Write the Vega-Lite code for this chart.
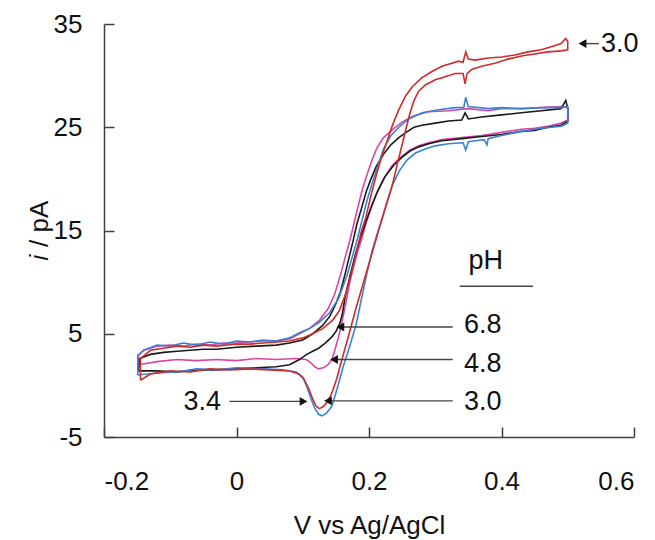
{
  "$schema": "https://vega.github.io/schema/vega-lite/v6.json",
  "width": 530,
  "height": 413,
  "autosize": "none",
  "padding": {"left": 104, "top": 24, "right": 21, "bottom": 103},
  "background": "white",
  "config": {
    "view": {"stroke": null},
    "axis": {
      "grid": false,
      "domainColor": "#404040",
      "tickColor": "#404040",
      "domainWidth": 1.5,
      "tickWidth": 1.5,
      "tickSize": -10,
      "labelFont": "Liberation Sans",
      "labelFontSize": 26,
      "labelColor": "#111111",
      "titleFont": "Liberation Sans",
      "titleFontSize": 26,
      "titleFontWeight": "normal",
      "titleColor": "#111111"
    }
  },
  "datasets": {
    "curves": [
      {"s":"m","v":-0.148,"c":2.0},{"s":"m","v":-0.148,"c":2.9},{"s":"m","v":-0.14,"c":3.4},{"s":"m","v":-0.12,"c":3.8},{"s":"m","v":-0.10,"c":3.9},{"s":"m","v":-0.08,"c":3.8},{"s":"m","v":-0.06,"c":4.0},{"s":"m","v":-0.04,"c":3.9},{"s":"m","v":-0.02,"c":4.1},{"s":"m","v":0.0,"c":4.1},{"s":"m","v":0.02,"c":4.2},{"s":"m","v":0.04,"c":4.3},{"s":"m","v":0.06,"c":4.3},{"s":"m","v":0.08,"c":4.5},{"s":"m","v":0.095,"c":5.0},{"s":"m","v":0.11,"c":5.5},{"s":"m","v":0.125,"c":6.3},{"s":"m","v":0.138,"c":7.4},{"s":"m","v":0.148,"c":8.8},{"s":"m","v":0.157,"c":10.7},{"s":"m","v":0.164,"c":12.4},{"s":"m","v":0.171,"c":14.0},{"s":"m","v":0.177,"c":15.6},{"s":"m","v":0.183,"c":17.2},{"s":"m","v":0.19,"c":19.0},{"s":"m","v":0.198,"c":20.6},{"s":"m","v":0.205,"c":21.9},{"s":"m","v":0.212,"c":23.0},{"s":"m","v":0.222,"c":24.0},{"s":"m","v":0.236,"c":24.8},{"s":"m","v":0.25,"c":25.5},{"s":"m","v":0.267,"c":26.1},{"s":"m","v":0.29,"c":26.5},{"s":"m","v":0.32,"c":26.6},{"s":"m","v":0.35,"c":26.8},{"s":"m","v":0.38,"c":26.6},{"s":"m","v":0.40,"c":26.8},{"s":"m","v":0.43,"c":26.8},{"s":"m","v":0.46,"c":26.9},{"s":"m","v":0.49,"c":27.0},{"s":"m","v":0.5,"c":26.9},{"s":"m","v":0.5,"c":25.7},
      {"s":"m","v":0.49,"c":25.4},{"s":"m","v":0.47,"c":25.1},{"s":"m","v":0.45,"c":24.9},{"s":"m","v":0.43,"c":24.8},{"s":"m","v":0.40,"c":24.5},{"s":"m","v":0.37,"c":24.2},{"s":"m","v":0.34,"c":24.0},{"s":"m","v":0.31,"c":23.8},{"s":"m","v":0.29,"c":23.5},{"s":"m","v":0.275,"c":23.2},{"s":"m","v":0.262,"c":22.8},{"s":"m","v":0.248,"c":22.1},{"s":"m","v":0.235,"c":21.3},{"s":"m","v":0.222,"c":20.0},{"s":"m","v":0.212,"c":18.7},{"s":"m","v":0.204,"c":17.3},{"s":"m","v":0.196,"c":15.8},{"s":"m","v":0.189,"c":14.2},{"s":"m","v":0.182,"c":12.8},{"s":"m","v":0.176,"c":11.3},{"s":"m","v":0.171,"c":10.0},{"s":"m","v":0.164,"c":7.6},{"s":"m","v":0.158,"c":5.8},{"s":"m","v":0.154,"c":4.7},{"s":"m","v":0.148,"c":3.3},{"s":"m","v":0.144,"c":2.5},{"s":"m","v":0.138,"c":2.0},{"s":"m","v":0.131,"c":1.7},{"s":"m","v":0.124,"c":1.6},{"s":"m","v":0.118,"c":1.8},{"s":"m","v":0.112,"c":2.2},{"s":"m","v":0.105,"c":2.5},{"s":"m","v":0.09,"c":2.6},{"s":"m","v":0.06,"c":2.5},{"s":"m","v":0.03,"c":2.6},{"s":"m","v":0.0,"c":2.4},{"s":"m","v":-0.03,"c":2.5},{"s":"m","v":-0.06,"c":2.4},{"s":"m","v":-0.09,"c":2.5},{"s":"m","v":-0.12,"c":2.3},{"s":"m","v":-0.148,"c":2.0},

      {"s":"k","v":-0.148,"c":1.4},{"s":"k","v":-0.146,"c":2.6},{"s":"k","v":-0.13,"c":3.0},{"s":"k","v":-0.11,"c":3.2},{"s":"k","v":-0.09,"c":3.3},{"s":"k","v":-0.07,"c":3.4},{"s":"k","v":-0.05,"c":3.5},{"s":"k","v":-0.03,"c":3.5},{"s":"k","v":0.0,"c":3.7},{"s":"k","v":0.03,"c":3.8},{"s":"k","v":0.06,"c":3.9},{"s":"k","v":0.08,"c":4.1},{"s":"k","v":0.1,"c":4.4},{"s":"k","v":0.115,"c":5.0},{"s":"k","v":0.13,"c":5.8},{"s":"k","v":0.141,"c":6.7},{"s":"k","v":0.15,"c":7.9},{"s":"k","v":0.157,"c":9.1},{"s":"k","v":0.164,"c":10.8},{"s":"k","v":0.17,"c":12.4},{"s":"k","v":0.176,"c":14.0},{"s":"k","v":0.182,"c":15.7},{"s":"k","v":0.189,"c":17.2},{"s":"k","v":0.196,"c":18.8},{"s":"k","v":0.203,"c":20.0},{"s":"k","v":0.211,"c":21.2},{"s":"k","v":0.222,"c":22.4},{"s":"k","v":0.233,"c":23.3},{"s":"k","v":0.245,"c":24.0},{"s":"k","v":0.256,"c":24.5},{"s":"k","v":0.268,"c":25.0},{"s":"k","v":0.28,"c":25.2},{"s":"k","v":0.3,"c":25.4},{"s":"k","v":0.32,"c":25.6},{"s":"k","v":0.34,"c":25.7},{"s":"k","v":0.345,"c":26.4},{"s":"k","v":0.35,"c":25.8},{"s":"k","v":0.37,"c":26.0},{"s":"k","v":0.4,"c":26.2},{"s":"k","v":0.43,"c":26.4},{"s":"k","v":0.46,"c":26.6},{"s":"k","v":0.49,"c":26.8},{"s":"k","v":0.497,"c":27.6},{"s":"k","v":0.5,"c":26.8},{"s":"k","v":0.5,"c":25.6},
      {"s":"k","v":0.49,"c":25.2},{"s":"k","v":0.47,"c":25.0},{"s":"k","v":0.45,"c":24.7},{"s":"k","v":0.43,"c":24.6},{"s":"k","v":0.40,"c":24.3},{"s":"k","v":0.37,"c":24.1},{"s":"k","v":0.34,"c":23.9},{"s":"k","v":0.31,"c":23.7},{"s":"k","v":0.29,"c":23.4},{"s":"k","v":0.275,"c":23.1},{"s":"k","v":0.262,"c":22.7},{"s":"k","v":0.25,"c":22.1},{"s":"k","v":0.237,"c":21.3},{"s":"k","v":0.224,"c":20.2},{"s":"k","v":0.213,"c":18.8},{"s":"k","v":0.204,"c":17.4},{"s":"k","v":0.196,"c":16.0},{"s":"k","v":0.188,"c":14.5},{"s":"k","v":0.18,"c":12.8},{"s":"k","v":0.172,"c":10.8},{"s":"k","v":0.164,"c":8.6},{"s":"k","v":0.16,"c":7.0},{"s":"k","v":0.156,"c":6.0},{"s":"k","v":0.15,"c":5.2},{"s":"k","v":0.144,"c":4.7},{"s":"k","v":0.134,"c":4.1},{"s":"k","v":0.124,"c":3.6},{"s":"k","v":0.115,"c":3.3},{"s":"k","v":0.106,"c":3.0},{"s":"k","v":0.095,"c":2.5},{"s":"k","v":0.08,"c":2.0},{"s":"k","v":0.06,"c":1.8},{"s":"k","v":0.03,"c":1.7},{"s":"k","v":0.0,"c":1.6},{"s":"k","v":-0.03,"c":1.5},{"s":"k","v":-0.06,"c":1.5},{"s":"k","v":-0.09,"c":1.3},{"s":"k","v":-0.12,"c":1.4},{"s":"k","v":-0.148,"c":1.4},

      {"s":"b","v":-0.149,"c":1.0},{"s":"b","v":-0.149,"c":2.9},{"s":"b","v":-0.14,"c":3.4},{"s":"b","v":-0.12,"c":3.9},{"s":"b","v":-0.10,"c":3.8},{"s":"b","v":-0.08,"c":4.1},{"s":"b","v":-0.06,"c":3.9},{"s":"b","v":-0.04,"c":4.2},{"s":"b","v":-0.02,"c":4.0},{"s":"b","v":0.0,"c":4.3},{"s":"b","v":0.02,"c":4.2},{"s":"b","v":0.04,"c":4.4},{"s":"b","v":0.06,"c":4.3},{"s":"b","v":0.08,"c":4.6},{"s":"b","v":0.095,"c":5.1},{"s":"b","v":0.11,"c":5.5},{"s":"b","v":0.125,"c":6.1},{"s":"b","v":0.14,"c":7.0},{"s":"b","v":0.154,"c":8.4},{"s":"b","v":0.167,"c":10.7},{"s":"b","v":0.175,"c":12.5},{"s":"b","v":0.182,"c":14.1},{"s":"b","v":0.19,"c":16.1},{"s":"b","v":0.197,"c":17.9},{"s":"b","v":0.205,"c":19.6},{"s":"b","v":0.212,"c":21.0},{"s":"b","v":0.222,"c":22.9},{"s":"b","v":0.232,"c":24.1},{"s":"b","v":0.245,"c":25.0},{"s":"b","v":0.26,"c":25.8},{"s":"b","v":0.28,"c":26.4},{"s":"b","v":0.305,"c":26.7},{"s":"b","v":0.33,"c":26.9},{"s":"b","v":0.343,"c":26.9},{"s":"b","v":0.346,"c":27.9},{"s":"b","v":0.35,"c":27.0},{"s":"b","v":0.38,"c":26.8},{"s":"b","v":0.40,"c":26.9},{"s":"b","v":0.43,"c":26.8},{"s":"b","v":0.46,"c":26.9},{"s":"b","v":0.49,"c":26.9},{"s":"b","v":0.5,"c":27.0},{"s":"b","v":0.5,"c":25.4},
      {"s":"b","v":0.49,"c":25.1},{"s":"b","v":0.46,"c":24.9},{"s":"b","v":0.43,"c":24.6},{"s":"b","v":0.40,"c":24.2},{"s":"b","v":0.38,"c":23.9},{"s":"b","v":0.378,"c":23.3},{"s":"b","v":0.374,"c":23.8},{"s":"b","v":0.36,"c":23.7},{"s":"b","v":0.35,"c":23.6},{"s":"b","v":0.346,"c":22.8},{"s":"b","v":0.342,"c":23.5},{"s":"b","v":0.32,"c":23.4},{"s":"b","v":0.30,"c":23.2},{"s":"b","v":0.285,"c":22.9},{"s":"b","v":0.27,"c":22.5},{"s":"b","v":0.257,"c":21.8},{"s":"b","v":0.246,"c":20.8},{"s":"b","v":0.236,"c":19.5},{"s":"b","v":0.228,"c":17.9},{"s":"b","v":0.219,"c":16.0},{"s":"b","v":0.212,"c":14.6},{"s":"b","v":0.205,"c":13.1},{"s":"b","v":0.196,"c":10.6},{"s":"b","v":0.188,"c":8.2},{"s":"b","v":0.181,"c":6.0},{"s":"b","v":0.172,"c":4.0},{"s":"b","v":0.161,"c":1.8},{"s":"b","v":0.152,"c":-0.3},{"s":"b","v":0.144,"c":-2.0},{"s":"b","v":0.136,"c":-2.7},{"s":"b","v":0.129,"c":-2.95},{"s":"b","v":0.124,"c":-2.8},{"s":"b","v":0.118,"c":-2.2},{"s":"b","v":0.112,"c":-1.2},{"s":"b","v":0.106,"c":-0.1},{"s":"b","v":0.1,"c":0.8},{"s":"b","v":0.09,"c":1.3},{"s":"b","v":0.07,"c":1.5},{"s":"b","v":0.04,"c":1.6},{"s":"b","v":0.0,"c":1.7},{"s":"b","v":-0.03,"c":1.5},{"s":"b","v":-0.06,"c":1.6},{"s":"b","v":-0.09,"c":1.3},{"s":"b","v":-0.12,"c":1.2},{"s":"b","v":-0.149,"c":1.0},

      {"s":"r","v":-0.145,"c":0.5},{"s":"r","v":-0.145,"c":2.6},{"s":"r","v":-0.13,"c":3.4},{"s":"r","v":-0.11,"c":3.6},{"s":"r","v":-0.09,"c":3.8},{"s":"r","v":-0.07,"c":3.7},{"s":"r","v":-0.05,"c":3.9},{"s":"r","v":-0.03,"c":3.8},{"s":"r","v":0.0,"c":4.0},{"s":"r","v":0.02,"c":4.0},{"s":"r","v":0.04,"c":4.1},{"s":"r","v":0.06,"c":4.2},{"s":"r","v":0.08,"c":4.3},{"s":"r","v":0.1,"c":4.6},{"s":"r","v":0.115,"c":5.0},{"s":"r","v":0.13,"c":5.5},{"s":"r","v":0.145,"c":6.3},{"s":"r","v":0.155,"c":7.2},{"s":"r","v":0.165,"c":8.9},{"s":"r","v":0.172,"c":10.5},{"s":"r","v":0.18,"c":12.6},{"s":"r","v":0.188,"c":14.8},{"s":"r","v":0.195,"c":16.2},{"s":"r","v":0.203,"c":18.4},{"s":"r","v":0.212,"c":20.6},{"s":"r","v":0.22,"c":22.3},{"s":"r","v":0.228,"c":23.8},{"s":"r","v":0.236,"c":25.3},{"s":"r","v":0.245,"c":26.7},{"s":"r","v":0.255,"c":28.0},{"s":"r","v":0.265,"c":28.9},{"s":"r","v":0.28,"c":29.8},{"s":"r","v":0.295,"c":30.4},{"s":"r","v":0.31,"c":30.9},{"s":"r","v":0.325,"c":31.2},{"s":"r","v":0.335,"c":31.4},{"s":"r","v":0.342,"c":31.3},{"s":"r","v":0.346,"c":32.3},{"s":"r","v":0.35,"c":31.6},{"s":"r","v":0.36,"c":31.5},{"s":"r","v":0.38,"c":31.7},{"s":"r","v":0.40,"c":31.8},{"s":"r","v":0.42,"c":32.0},{"s":"r","v":0.44,"c":32.3},{"s":"r","v":0.46,"c":32.5},{"s":"r","v":0.48,"c":32.9},{"s":"r","v":0.49,"c":33.1},{"s":"r","v":0.497,"c":33.6},{"s":"r","v":0.5,"c":33.3},{"s":"r","v":0.5,"c":32.5},
      {"s":"r","v":0.49,"c":32.4},{"s":"r","v":0.47,"c":32.3},{"s":"r","v":0.45,"c":32.1},{"s":"r","v":0.43,"c":31.9},{"s":"r","v":0.41,"c":31.6},{"s":"r","v":0.39,"c":31.2},{"s":"r","v":0.37,"c":30.9},{"s":"r","v":0.355,"c":30.6},{"s":"r","v":0.348,"c":30.2},{"s":"r","v":0.345,"c":29.2},{"s":"r","v":0.342,"c":30.2},{"s":"r","v":0.33,"c":30.2},{"s":"r","v":0.315,"c":29.9},{"s":"r","v":0.30,"c":29.6},{"s":"r","v":0.285,"c":29.1},{"s":"r","v":0.275,"c":28.5},{"s":"r","v":0.268,"c":27.6},{"s":"r","v":0.262,"c":26.4},{"s":"r","v":0.256,"c":24.9},{"s":"r","v":0.25,"c":23.3},{"s":"r","v":0.243,"c":21.5},{"s":"r","v":0.236,"c":19.6},{"s":"r","v":0.228,"c":17.9},{"s":"r","v":0.219,"c":16.0},{"s":"r","v":0.21,"c":14.0},{"s":"r","v":0.2,"c":11.8},{"s":"r","v":0.19,"c":9.6},{"s":"r","v":0.18,"c":7.4},{"s":"r","v":0.17,"c":5.0},{"s":"r","v":0.16,"c":2.7},{"s":"r","v":0.151,"c":0.6},{"s":"r","v":0.143,"c":-0.9},{"s":"r","v":0.136,"c":-1.7},{"s":"r","v":0.13,"c":-2.1},{"s":"r","v":0.125,"c":-2.25},{"s":"r","v":0.12,"c":-2.0},{"s":"r","v":0.115,"c":-1.3},{"s":"r","v":0.109,"c":-0.3},{"s":"r","v":0.102,"c":0.6},{"s":"r","v":0.094,"c":1.1},{"s":"r","v":0.08,"c":1.4},{"s":"r","v":0.05,"c":1.5},{"s":"r","v":0.02,"c":1.6},{"s":"r","v":-0.01,"c":1.5},{"s":"r","v":-0.04,"c":1.6},{"s":"r","v":-0.07,"c":1.3},{"s":"r","v":-0.1,"c":1.4},{"s":"r","v":-0.13,"c":1.1},{"s":"r","v":-0.145,"c":0.5}
    ],
    "arrows": [
      {"x": 0.3264, "x2": 0.1568, "y": 5.66},
      {"x": 0.3264, "x2": 0.1473, "y": 2.5},
      {"x": 0.3264, "x2": 0.138, "y": -1.5},
      {"x": -0.0106, "x2": 0.1012, "y": -1.55},
      {"x": 0.547, "x2": 0.5223, "y": 33.1},
      {"x": 0.337, "x2": 0.4476, "y": 9.6}
    ],
    "headsL": [
      {"x": 0.1568, "y": 5.66},
      {"x": 0.1473, "y": 2.5},
      {"x": 0.138, "y": -1.5},
      {"x": 0.5223, "y": 33.1}
    ],
    "headsR": [
      {"x": 0.1012, "y": -1.55}
    ],
    "labels": [
      {"x": 0.3434, "y": 5.85, "t": "6.8"},
      {"x": 0.3434, "y": 2.1, "t": "4.8"},
      {"x": 0.3434, "y": -1.57, "t": "3.0"},
      {"x": -0.0799, "y": -1.57, "t": "3.4"},
      {"x": 0.35, "y": 12.0, "t": "pH"},
      {"x": 0.5502, "y": 33.07, "t": "3.0"}
    ]
  },
  "layer": [
    {
      "data": {"name": "curves"},
      "mark": {"type": "line", "strokeWidth": 1.6, "clip": false},
      "encoding": {
        "x": {"field": "v", "type": "quantitative",
          "scale": {"domain": [-0.2, 0.6], "nice": false, "zero": false},
          "axis": {"values": [-0.2, 0, 0.2, 0.4, 0.6], "labelExpr": "toString(datum.value)", "labelPadding": 41, "title": "V vs Ag/AgCl", "titlePadding": 18}},
        "y": {"field": "c", "type": "quantitative",
          "scale": {"domain": [-5, 35], "nice": false, "zero": false},
          "axis": {"values": [-5, 5, 15, 25, 35], "labelExpr": "toString(datum.value)", "labelPadding": 32, "title": "𝑖 / pA", "titlePadding": 1}},
        "color": {"field": "s", "type": "nominal", "legend": null,
          "scale": {"domain": ["m", "k", "b", "r"], "range": ["#d946a6", "#1a1a1a", "#3b82d4", "#cf2b2b"]}},
        "order": {"value": null}
      }
    },
    {
      "data": {"name": "arrows"},
      "mark": {"type": "rule", "color": "#444444", "strokeWidth": 1.4},
      "encoding": {
        "x": {"field": "x", "type": "quantitative"},
        "x2": {"field": "x2"},
        "y": {"field": "y", "type": "quantitative"}
      }
    },
    {
      "data": {"name": "headsL"},
      "mark": {"type": "point", "shape": "triangle-left", "filled": true, "color": "#111111", "size": 80, "opacity": 1},
      "encoding": {
        "x": {"field": "x", "type": "quantitative"},
        "y": {"field": "y", "type": "quantitative"}
      }
    },
    {
      "data": {"name": "headsR"},
      "mark": {"type": "point", "shape": "triangle-right", "filled": true, "color": "#111111", "size": 80, "opacity": 1},
      "encoding": {
        "x": {"field": "x", "type": "quantitative"},
        "y": {"field": "y", "type": "quantitative"}
      }
    },
    {
      "data": {"name": "labels"},
      "mark": {"type": "text", "align": "left", "baseline": "middle", "font": "Liberation Sans", "fontSize": 27, "color": "#111111"},
      "encoding": {
        "x": {"field": "x", "type": "quantitative"},
        "y": {"field": "y", "type": "quantitative"},
        "text": {"field": "t"}
      }
    }
  ]
}
